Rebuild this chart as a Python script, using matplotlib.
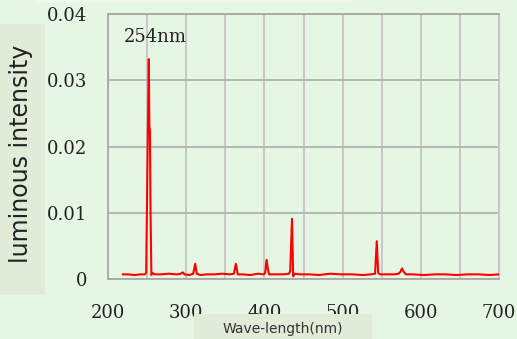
import matplotlib
matplotlib.use("Agg")
import matplotlib.pyplot as plt
from matplotlib.patches import Rectangle

# spectrum (nm, intensity)
wavelength = [219, 226, 234, 242, 247, 248.8, 250.5, 252.2, 252.9, 253.6, 254.4, 255.5, 257,
              260, 268, 278, 288, 293, 295.5, 298, 304, 309, 311.5, 313.5, 318, 326, 336,
              346, 356, 361, 363.5, 366, 372, 382, 392, 399, 401, 402.8, 404.5, 406, 414,
              424, 431.5, 433, 435.3, 436.8, 438.5, 446, 458, 470, 484, 498, 512, 526, 536,
              541.5, 543.7, 545.5, 548, 556, 566, 571.5, 574, 576, 578, 581, 590, 604, 618,
              632, 646, 660, 674, 688, 700]
intensity = [0.0007, 0.0007, 0.0006, 0.0007, 0.0007, 0.0009, 0.0180, 0.0332, 0.0230, 0.0225,
             0.0100, 0.0006, 0.0009, 0.0007, 0.0007, 0.0008, 0.0007, 0.0008, 0.0010, 0.0007,
             0.0006, 0.0008, 0.0023, 0.0008, 0.0006, 0.0007, 0.0007, 0.0008, 0.0007, 0.0008,
             0.0023, 0.0007, 0.0007, 0.0006, 0.0008, 0.0007, 0.0009, 0.0029, 0.0015, 0.0007,
             0.0007, 0.0007, 0.0008, 0.0012, 0.0091, 0.0004, 0.0008, 0.0007, 0.0007, 0.0006,
             0.0008, 0.0007, 0.0007, 0.0006, 0.0007, 0.0008, 0.0057, 0.0009, 0.0007, 0.0007,
             0.0007, 0.0008, 0.0011, 0.0016, 0.0011, 0.0007, 0.0007, 0.0006, 0.0007, 0.0007,
             0.0006, 0.0007, 0.0007, 0.0006, 0.0007]

x_ticks = [200, 300, 400, 500, 600, 700]
y_ticks = [0, 0.01, 0.02, 0.03, 0.04]
y_tick_labels = ["0", "0.01", "0.02", "0.03", "0.04"]

bg = "#e6f6e4"
box = "#e0ecd8"
W, H = 517, 339

fig = plt.figure(figsize=(W / 100, H / 100), dpi=100, facecolor=bg)

# label boxes (pixel coords from top-left)
def px_rect(x0, y0, x1, y1, color):
    fig.patches.append(Rectangle((x0 / W, 1 - y1 / H), (x1 - x0) / W, (y1 - y0) / H,
                                 transform=fig.transFigure, facecolor=color,
                                 edgecolor="none", zorder=0))

px_rect(35, 0, 353, 3, "#eef9ec")
px_rect(0, 24, 45, 295, box)
px_rect(194, 314, 372, 339, box)

ax = fig.add_axes([108 / W, 60 / H, 391 / W, 265 / H])
ax.set_facecolor(bg)

ax.plot(wavelength, intensity, color="#ff0000", lw=1.5, zorder=3)

ax.set_xlim(200, 700)
ax.set_ylim(0, 0.04)
ax.set_xticks(x_ticks)
ax.set_xticks([250, 350, 450, 550, 650], minor=True)
ax.set_yticks(y_ticks)
ax.set_yticklabels(y_tick_labels)
ax.tick_params(which="both", length=0)
ax.tick_params(axis="x", pad=18)
ax.tick_params(axis="y", pad=15)
for lab in ax.get_xticklabels() + ax.get_yticklabels():
    lab.set_fontfamily("DejaVu Serif")
    lab.set_fontsize(13)
    lab.set_color("#222222")

ax.grid(True, which="both", axis="x", color="#c4c4c4", lw=1.3)
ax.grid(True, which="major", axis="y", color="#b0b0b0", lw=1.3)
ax.set_axisbelow(True)
for side in ["left", "bottom", "top"]:
    ax.spines[side].set_color("#a8a8a8")
    ax.spines[side].set_linewidth(1.3)
ax.spines["right"].set_color("#c4c4c4")
ax.spines["right"].set_linewidth(1.3)

ax.text(261, 0.0365, "254nm", ha="center", va="center",
        fontfamily="DejaVu Serif", fontsize=13, color="#222222")

fig.text(21 / W, 1 - 154 / H, "luminous intensity", rotation=90, ha="center", va="center",
         fontfamily="DejaVu Sans", fontsize=17, color="#222222")
fig.text(283 / W, 1 - 329 / H, "Wave-length(nm)", ha="center", va="center",
         fontfamily="DejaVu Sans", fontsize=10, color="#333333")

fig.savefig("out.png", dpi=100, facecolor=bg)
